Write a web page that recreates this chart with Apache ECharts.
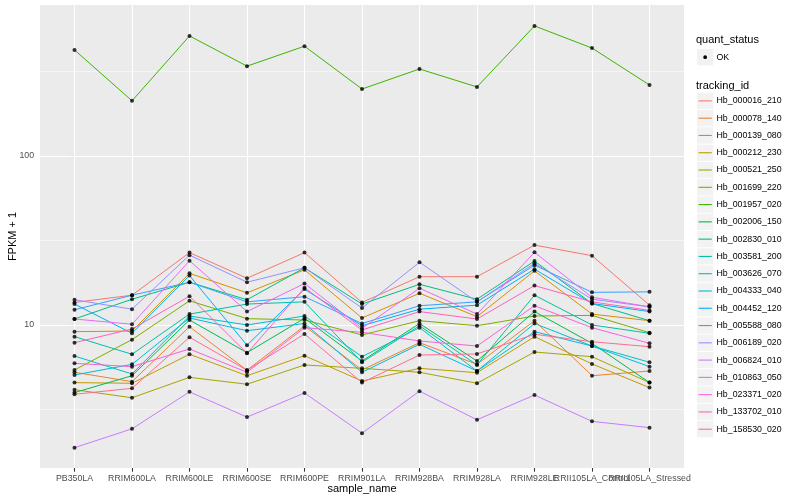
<!DOCTYPE html>
<html><head><meta charset="utf-8">
<script src="https://cdn.jsdelivr.net/npm/echarts@6/dist/echarts.min.js"></script>
<style>html,body{margin:0;padding:0;background:#fff}#c{width:800px;height:500px}</style>
</head><body><div id="c"></div>
<script>
// ---- data ----
const categories = ['PB350LA','RRIM600LA','RRIM600LE','RRIM600SE','RRIM600PE','RRIM901LA','RRIM928BA','RRIM928LA','RRIM928LE','RRII105LA_Control','RRII105LA_Stressed'];
const trackingIds = ['Hb_000016_210','Hb_000078_140','Hb_000139_080','Hb_000212_230','Hb_000521_250','Hb_001699_220','Hb_001957_020','Hb_002006_150','Hb_002830_010','Hb_003581_200','Hb_003626_070','Hb_004333_040','Hb_004452_120','Hb_005588_080','Hb_006189_020','Hb_006824_010','Hb_010863_050','Hb_023371_020','Hb_133702_010','Hb_158530_020'];
const seriesColors = ['#F8766D','#EA8331','#D89000','#C09B00','#A3A500','#7CAE00','#39B600','#00BB4E','#00BF7D','#00C1A3','#00BFC4','#00BAE0','#00B0F6','#35A2FF','#9590FF','#C77CFF','#E76BF3','#FA62DB','#FF62BC','#FF6C91'];
const yMajorBreaks = [10, 100];
const yMinorBreaks = [3.1623, 31.623, 316.23];

const Hb_000016_210 = [13.6, 15.0, 26.8, 18.9, 26.8, 13.6, 19.3, 19.3, 29.7, 25.7, 13.1];
const Hb_000078_140 = [5.25, 4.62, 9.77, 5.40, 9.87, 5.42, 7.86, 5.85, 10.6, 5.01, 5.34];
const Hb_000139_080 = [9.13, 9.21, 20.2, 15.5, 21.2, 11.0, 15.4, 11.2, 20.9, 11.6, 10.6];
const Hb_000212_230 = [4.56, 4.52, 6.71, 5.01, 6.58, 4.66, 5.54, 5.22, 8.53, 5.88, 4.26];
const Hb_000521_250 = [4.14, 3.71, 4.90, 4.46, 5.80, 5.54, 5.25, 4.52, 6.92, 6.49, 4.56];
const Hb_001699_220 = [5.42, 8.19, 13.9, 10.9, 10.7, 8.73, 10.6, 9.9, 11.3, 11.4, 9.0];
const Hb_001957_020 = [424, 212, 513, 340, 446, 249, 327, 256, 588, 435, 263];
const Hb_002006_150 = [3.98, 5.01, 10.7, 6.86, 10.96, 6.12, 10.2, 6.12, 12.0, 7.79, 4.56];
const Hb_002830_010 = [10.85, 14.2, 17.9, 14.1, 21.8, 13.3, 17.4, 14.2, 23.9, 13.4, 10.6];
const Hb_003581_200 = [8.53, 6.71, 11.6, 13.3, 13.7, 6.02, 9.9, 5.80, 15.0, 10.0, 8.93];
const Hb_003626_070 = [6.55, 5.13, 11.3, 10.0, 11.3, 6.49, 9.64, 5.34, 10.2, 7.51, 6.02];
const Hb_004333_040 = [5.06, 5.85, 11.0, 9.25, 10.2, 5.25, 7.69, 5.34, 9.13, 7.51, 5.67];
const Hb_004452_120 = [13.3, 8.93, 19.6, 7.59, 16.3, 9.9, 12.4, 13.1, 21.4, 13.4, 12.0];
const Hb_005588_080 = [12.3, 15.0, 17.9, 13.7, 14.7, 10.2, 13.0, 13.7, 22.6, 15.6, 15.7];
const Hb_006189_020 = [14.1, 12.4, 25.9, 17.9, 21.8, 12.6, 23.5, 13.7, 23.2, 14.2, 12.8];
const Hb_006824_010 = [1.88, 2.43, 4.02, 2.85, 3.96, 2.29, 4.06, 2.75, 3.85, 2.69, 2.47];
const Hb_010863_050 = [10.85, 10.1, 24.0, 12.0, 17.6, 9.56, 16.5, 11.6, 26.9, 14.6, 12.8];
const Hb_023371_020 = [5.93, 5.67, 7.21, 5.25, 9.64, 9.05, 8.04, 7.51, 13.0, 9.64, 7.79];
const Hb_133702_010 = [7.86, 9.47, 14.8, 6.80, 16.6, 9.34, 12.0, 10.85, 17.1, 13.7, 12.2];
const Hb_158530_020 = [3.89, 4.22, 8.46, 5.40, 8.85, 4.56, 6.64, 6.74, 8.81, 7.96, 7.44];

const seriesValues = [Hb_000016_210, Hb_000078_140, Hb_000139_080, Hb_000212_230, Hb_000521_250, Hb_001699_220, Hb_001957_020, Hb_002006_150, Hb_002830_010, Hb_003581_200, Hb_003626_070, Hb_004333_040, Hb_004452_120, Hb_005588_080, Hb_006189_020, Hb_006824_010, Hb_010863_050, Hb_023371_020, Hb_133702_010, Hb_158530_020];

// ---- chart ----
const FONT = '"Liberation Sans", Arial, Helvetica, sans-serif';
const chart = echarts.init(document.getElementById('c'), null, {renderer: 'canvas'});

const catIdx = categories.map((c, i) => i);
const series = [];
seriesValues.forEach((vals, s) => {
  series.push({
    type: 'line', name: trackingIds[s], z: 2, xAxisIndex: 0,
    data: vals.map((v, i) => [i, v]),
    symbol: 'none', silent: true,
    lineStyle: {color: seriesColors[s], width: 1},
    itemStyle: {color: seriesColors[s]},
    emphasis: {disabled: true}, animation: false
  });
});
const pts = [];
seriesValues.forEach(vals => vals.forEach((v, i) => pts.push([i, v])));

const gridLines = [];
catIdx.forEach(i => gridLines.push({xAxis: i, lineStyle: {color: '#fff', width: 1.07, type: 'solid'}}));
yMajorBreaks.forEach(v => gridLines.push({yAxis: v, lineStyle: {color: '#fff', width: 1.07, type: 'solid'}}));
yMinorBreaks.forEach(v => gridLines.push({yAxis: v, lineStyle: {color: '#fff', width: 0.53, type: 'solid'}}));

series.push({
  type: 'scatter', name: 'OK', z: 3, silent: true, xAxisIndex: 0,
  data: pts, symbol: 'circle', symbolSize: 4,
  itemStyle: {color: '#000'}, animation: false,
  markLine: {
    silent: true, z: 1, symbol: ['none', 'none'], label: {show: false},
    animation: false, emphasis: {disabled: true},
    data: gridLines
  }
});

// legend (ggplot style) built with graphics
const graphics = [];
const keyX = 697, keyStep = 17.28, firstKeyY = 100.9;
graphics.push({type: 'text', x: 696, y: 40, style: {text: 'quant_status', fontSize: 11, fontFamily: FONT, fill: '#000', verticalAlign: 'middle', align: 'left'}});
graphics.push({type: 'rect', shape: {x: keyX, y: 49, width: 16.3, height: 16.3}, style: {fill: '#F2F2F2'}});
graphics.push({type: 'circle', shape: {cx: keyX + 8.15, cy: 57.15, r: 1.9}, style: {fill: '#000'}});
graphics.push({type: 'text', x: 716.5, y: 57.3, style: {text: 'OK', fontSize: 8.8, fontFamily: FONT, fill: '#000', verticalAlign: 'middle', align: 'left'}});
graphics.push({type: 'text', x: 696, y: 85.5, style: {text: 'tracking_id', fontSize: 11, fontFamily: FONT, fill: '#000', verticalAlign: 'middle', align: 'left'}});
trackingIds.forEach((id, s) => {
  const cy = firstKeyY + s * keyStep;
  graphics.push({type: 'rect', shape: {x: keyX, y: cy - 8.15, width: 16.3, height: 16.3}, style: {fill: '#F2F2F2'}});
  graphics.push({type: 'line', shape: {x1: keyX + 1.5, y1: cy, x2: keyX + 14.8, y2: cy}, style: {stroke: seriesColors[s], lineWidth: 1.1}});
  graphics.push({type: 'text', x: 716.5, y: cy, style: {text: id, fontSize: 8.8, fontFamily: FONT, fill: '#000', verticalAlign: 'middle', align: 'left'}});
});

// x axes: labels split over three axes so overlapping neighbour labels are all kept (as in the reference)
const labelStyle = {formatter: v => categories[Math.round(v)], fontSize: 8.8, fontFamily: FONT, color: '#4D4D4D', margin: 6.0, showMinLabel: true, showMaxLabel: true, hideOverlap: false};
function xAxisPart(labelValues, withTicks, withName) {
  const ax = {
    type: 'value', min: -0.6, max: 10.6, gridIndex: 0, position: 'bottom', offset: 0,
    axisLine: {show: false},
    axisTick: withTicks ? {show: true, length: 3.7, lineStyle: {color: '#333', width: 1.07}, customValues: catIdx} : {show: false},
    axisLabel: Object.assign({customValues: labelValues}, labelStyle),
    splitLine: {show: false}
  };
  if (withName) {
    ax.name = 'sample_name'; ax.nameLocation = 'middle'; ax.nameGap = 15; ax.nameMoveOverlap = false;
    ax.nameTextStyle = {fontSize: 11, fontFamily: FONT, color: '#000'};
  }
  return ax;
}
const lastIdx = catIdx.length - 1;

const option = {
  backgroundColor: '#fff',
  animation: false,
  grid: {left: 40, top: 5, width: 644, height: 463, show: true, backgroundColor: '#EBEBEB', borderWidth: 0, containLabel: false, outerBoundsMode: 'none'},
  xAxis: [
    xAxisPart(catIdx.slice(0, lastIdx - 1), true, true),
    xAxisPart([catIdx[lastIdx - 1]], false, false),
    xAxisPart([catIdx[lastIdx]], false, false)
  ],
  yAxis: {
    type: 'log', logBase: 10, min: 1.425, max: 782,
    name: 'FPKM + 1', nameLocation: 'middle', nameGap: 21.5, nameRotate: 90, nameMoveOverlap: false,
    nameTextStyle: {fontSize: 11, fontFamily: FONT, color: '#000'},
    axisLine: {show: false},
    axisTick: {show: true, length: 3.7, lineStyle: {color: '#333', width: 1.07}},
    axisLabel: {fontSize: 8.8, fontFamily: FONT, color: '#4D4D4D', margin: 5.9, showMinLabel: false, showMaxLabel: false},
    splitLine: {show: false}, minorSplitLine: {show: false}
  },
  graphic: graphics,
  series: series
};
chart.setOption(option);
</script>
</body></html>
